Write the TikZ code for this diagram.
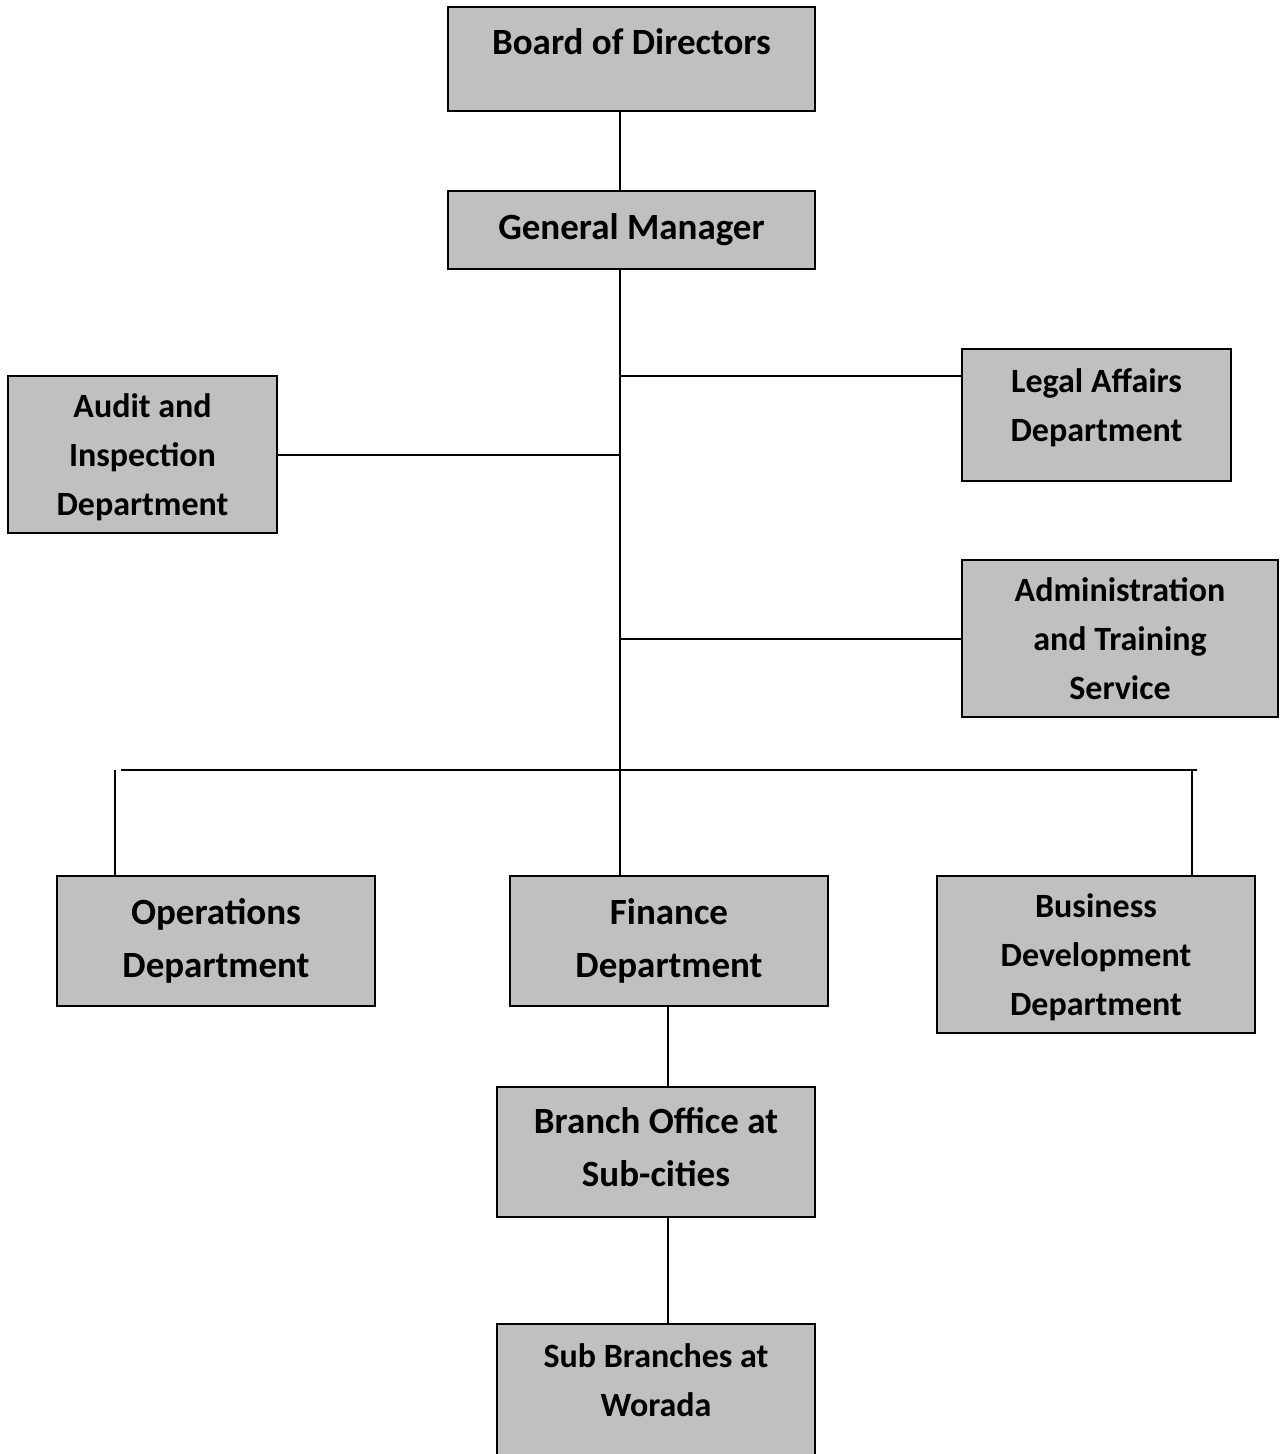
\documentclass[tikz,border=0pt]{standalone}
\usepackage{fontspec}
\setmainfont{Carlito}
\begin{document}
\begin{tikzpicture}[x=0.5pt, y=-0.5pt, line width=1pt,
  box/.style={draw, fill=boxgray, align=center, inner sep=0pt, font=\bfseries\fontsize{17}{24.5}\selectfont},
  big/.style={font=\bfseries\fontsize{18.5}{26.5}\selectfont}]
\definecolor{boxgray}{HTML}{C0C0C0}
\useasboundingbox (0,0) rectangle (1279,1454);
% boxes
\node[box, big, minimum width=183.5pt, minimum height=52pt, text depth=17pt] (bod) at (631.5,59) {Board of Directors};
\node[box, big, minimum width=183.5pt, minimum height=39pt] (gm) at (631.5,230) {General Manager};
\node[box, minimum width=134.5pt, minimum height=78.5pt, text depth=-1pt] (audit) at (142.5,454.5) {Audit and\\Inspection\\Department};
\node[box, minimum width=134.5pt, minimum height=66pt, text depth=10pt] (legal) at (1096.5,415) {Legal Affairs\\Department};
\node[box, minimum width=158pt, minimum height=78.5pt, text depth=-2.5pt] (admin) at (1120,638.5) {Administration\\and Training\\Service};
\node[box, big, minimum width=159pt, minimum height=65pt] (ops) at (216,941) {Operations\\Department};
\node[box, big, minimum width=159pt, minimum height=65pt] (fin) at (669,941) {Finance\\Department};
\node[box, minimum width=159pt, minimum height=78.5pt, text depth=-1pt] (bus) at (1096,954.5) {Business\\Development\\Department};
\node[box, big, minimum width=159pt, minimum height=65pt, text depth=5pt] (br) at (656,1152) {Branch Office at\\Sub-cities};
\node[box, minimum width=159pt, minimum height=68pt, text depth=12pt] (sub) at (656,1392) {Sub Branches at\\Worada};
% connectors
\coordinate (sp) at (620,0);
\coordinate (bl) at (121,770);
\coordinate (brr) at (1197,770);
\draw (bod.south -| sp) -- (gm.north -| sp);
\draw (gm.south -| sp) -- (fin.north -| sp);
\draw (620,376) -- (legal.west |- 620,376);
\draw (audit.east) -- (audit.east -| sp);
\draw (admin.west) -- (admin.west -| sp);
\draw (bl) -- (brr);
\draw (115,770) -- (ops.north -| 115,0);
\draw (1192,770) -- (bus.north -| 1192,0);
\draw (fin.south -| 668,0) -- (br.north -| 668,0);
\draw (br.south -| 668,0) -- (sub.north -| 668,0);
\end{tikzpicture}
\end{document}
